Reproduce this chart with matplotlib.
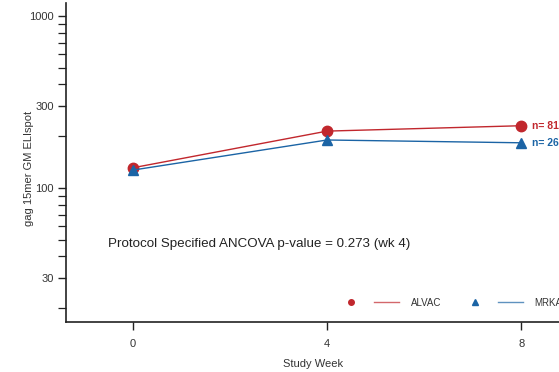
import matplotlib
matplotlib.use("Agg")
import matplotlib.pyplot as plt
from matplotlib.ticker import LogLocator, FixedLocator, NullFormatter
from matplotlib.lines import Line2D
from matplotlib.legend_handler import HandlerTuple

plt.rcParams['font.family'] = ['Liberation Sans', 'DejaVu Sans']

weeks = [0, 4, 8]
alvac = [131, 214, 230]
mrka = [127, 190, 183]
series_names = ["ALVAC", "MRKAd5"]
n_labels = ["n= 81", "n= 26"]
y_ticks = [30, 100, 300, 1000]
x_ticks = [0, 4, 8]

red = "#C1272D"
blue = "#1B64A5"
grey = "#333333"

fig = plt.figure(figsize=(5.59, 3.72), dpi=100)
ax = fig.add_axes([66/559, 50/372, (560-66)/559, 319/372])

ax.plot(weeks, alvac, color=red, lw=1.0, marker='o', ms=7.5, zorder=3)
ax.plot(weeks, mrka, color=blue, lw=1.0, marker='^', ms=7.5, zorder=3)

ax.text(weeks[-1] + 0.22, alvac[-1], n_labels[0], color=red, fontsize=7.5,
        fontweight='bold', va='center', ha='left')
ax.text(weeks[-1] + 0.22, mrka[-1], n_labels[1], color=blue, fontsize=7.5,
        fontweight='bold', va='center', ha='left')

ax.set_yscale('log')
ax.set_ylim(16.6, 1190)
ax.set_xlim(-1.38, 8.8)
ax.yaxis.set_major_locator(FixedLocator(y_ticks))
ax.set_yticklabels([str(v) for v in y_ticks])
ax.yaxis.set_minor_locator(LogLocator(base=10, subs=range(2, 10)))
ax.yaxis.set_minor_formatter(NullFormatter())
ax.set_xticks(x_ticks)
ax.set_xticklabels([str(v) for v in x_ticks])

for s in ['top', 'right']:
    ax.spines[s].set_visible(False)
for s in ['left', 'bottom']:
    ax.spines[s].set_linewidth(1.2)
    ax.spines[s].set_color('#222222')

ax.tick_params(axis='both', which='major', length=5.8, width=1.0, colors='#222222',
               labelcolor=grey, labelsize=8)
ax.tick_params(axis='y', which='major', pad=3)
ax.tick_params(axis='x', which='major', pad=6.5)
ax.tick_params(axis='y', which='minor', length=5.8, width=0.9, colors='#222222')

ax.set_xlabel("Study Week", fontsize=8, color=grey)
ax.set_ylabel("gag 15mer GM ELIspot", fontsize=8, color=grey)
ax.xaxis.set_label_coords(0.5, -0.116)
ax.yaxis.set_label_coords(-0.065, 0.48)

ax.text(0.085, 0.245, "Protocol Specified ANCOVA p-value = 0.273 (wk 4)",
        transform=ax.transAxes, fontsize=9.6, color='#222222', va='center', ha='left')

h_a = (Line2D([], [], color=red, marker='o', ms=4, lw=0),
       Line2D([], [], color=red, lw=1.0, alpha=0.7))
h_m = (Line2D([], [], color=blue, marker='^', ms=4, lw=0),
       Line2D([], [], color=blue, lw=1.0, alpha=0.7))
leg = ax.legend([h_a, h_m], series_names, handler_map={tuple: HandlerTuple(ndivide=None, pad=1.03)},
                loc='center left', bbox_to_anchor=(0.552, 0.06), ncol=2, frameon=False,
                fontsize=7, handlelength=6.2, handletextpad=1.2, columnspacing=2.2,
                borderpad=0, borderaxespad=0)
for t in leg.get_texts():
    t.set_color(grey)

fig.savefig("out.png", dpi=100)
